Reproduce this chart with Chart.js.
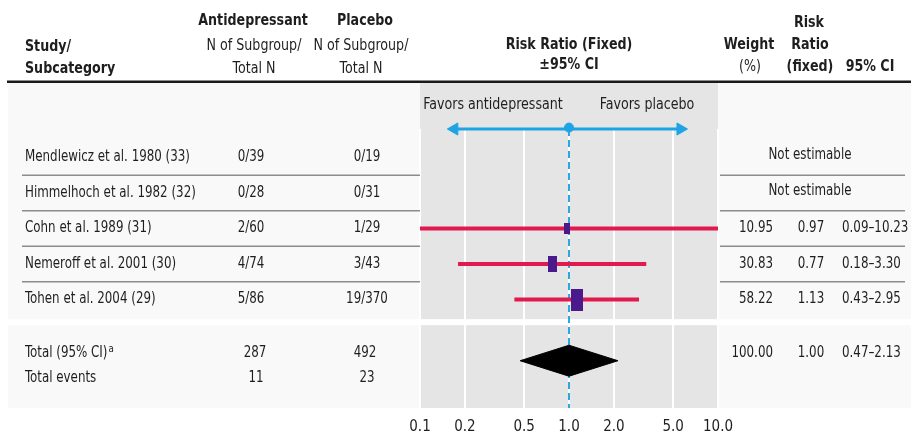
<!DOCTYPE html>
<html>
<head>
<meta charset="utf-8">
<style>
  body { margin: 0; background: #fff; }
  canvas { display: block; }
</style>
</head>
<body>
<canvas id="forestPlot" width="911" height="434"></canvas>
<script src="https://cdn.jsdelivr.net/npm/chart.js"></script>
<script>
// Study rows
const studies = [
    'Mendlewicz et al. 1980 (33)',
    'Himmelhoch et al. 1982 (32)',
    'Cohn et al. 1989 (31)',
    'Nemeroff et al. 2001 (30)',
    'Tohen et al. 2004 (29)'
];
const antidepressantN = ['0/39', '0/28', '2/60', '4/74', '5/86'];
const placeboN = ['0/19', '0/31', '1/29', '3/43', '19/370'];
const riskRatio = [null, null, 0.97, 0.77, 1.13];
const ciLow = [null, null, 0.09, 0.18, 0.43];
const ciHigh = [null, null, 10.23, 3.30, 2.95];
const weight = [null, null, 10.95, 30.83, 58.22];

// Pooled result
const totalN = [287, 492];
const totalEvents = [11, 23];
const totalRR = 1.00;
const totalLow = 0.47;
const totalHigh = 2.13;
const totalWeight = 100.00;

// x axis
const tickValues = [0.1, 0.2, 0.5, 1, 2, 5, 10];
const tickLabels = ['0.1', '0.2', '0.5', '1.0', '2.0', '5.0', '10.0'];

const FONT = "'Liberation Sans Narrow', 'DejaVu Sans Condensed', sans-serif";
const TEXT = '#1e1e1e';
const BLUE = '#1ea4e4';
const SQUEEZE = 0.88;   // the original face is narrower than what we have

// y positions in row units (row 0 = first study)
const Y_TOP = -0.8, Y_BOTTOM = 7.05;
const Y_TOTAL = 5.5, Y_DIAMOND = 5.72, Y_EVENTS = 6.2, Y_FAVORS = -1.48;

// square marker sized by weight
function squareFor(w) {
    const h = Math.round(9 + 0.22 * w);
    const c = document.createElement('canvas');
    c.width = Math.round(h * 0.55);
    c.height = h;
    const g = c.getContext('2d');
    g.fillStyle = '#4a1a8c';
    g.fillRect(0, 0, c.width, c.height);
    return c;
}

const datasets = [];

// reference line at 1
datasets.push({
    data: [{x: 1, y: Y_TOP}, {x: 1, y: Y_BOTTOM}],
    showLine: true, borderColor: '#2aa8e2', borderWidth: 2, borderDash: [7, 4],
    pointRadius: 0, order: 6
});

// favors arrow
datasets.push({
    data: [{x: 0.17, y: Y_TOP}, {x: 5.6, y: Y_TOP}],
    showLine: true, borderColor: BLUE, borderWidth: 3,
    pointStyle: 'triangle', pointRotation: [-90, 90], pointRadius: 7,
    pointBackgroundColor: BLUE, pointBorderColor: BLUE, pointBorderWidth: 1,
    clip: false, order: 5
});
datasets.push({
    data: [{x: 1, y: Y_TOP - 0.04}],
    pointRadius: 4.5, pointBackgroundColor: BLUE, pointBorderColor: BLUE,
    clip: false, order: 4
});

// confidence intervals
riskRatio.forEach((rr, i) => {
    if (rr === null) return;
    datasets.push({
        data: [{x: ciLow[i], y: i}, {x: ciHigh[i], y: i}],
        showLine: true, borderColor: '#e0194e', borderWidth: 4,
        pointRadius: 0, clip: 0, order: 3
    });
});

// point estimates
const estimateRows = riskRatio.map((rr, i) => i).filter(i => riskRatio[i] !== null);
datasets.push({
    data: estimateRows.map(i => ({x: riskRatio[i], y: i})),
    pointStyle: estimateRows.map(i => squareFor(weight[i])),
    pointRadius: 6, order: 1
});

// pooled diamond
const dh = 0.436;
datasets.push({
    data: [
        {x: totalLow, y: Y_DIAMOND}, {x: totalRR, y: Y_DIAMOND - dh},
        {x: totalHigh, y: Y_DIAMOND}, {x: totalRR, y: Y_DIAMOND + dh},
        {x: totalLow, y: Y_DIAMOND}
    ],
    showLine: true, fill: 'shape', borderColor: '#000', backgroundColor: '#000',
    borderWidth: 1, pointRadius: 0, tension: 0, order: 2
});

function setFont(ctx, bold, size) {
    ctx.font = (bold ? 'bold ' : '') + (size || 15) + 'px ' + FONT;
}

function text(ctx, s, x, y, align, bold, size) {
    setFont(ctx, bold, size);
    ctx.textAlign = align;
    ctx.textBaseline = 'middle';
    ctx.fillStyle = TEXT;
    ctx.save();
    ctx.translate(x, y);
    ctx.scale(SQUEEZE, 1);
    ctx.fillText(s, 0, 0);
    ctx.restore();
}

const tablePlugin = {
    id: 'forestTable',
    beforeDraw(chart) {
        const ctx = chart.ctx;
        const y = chart.scales.y;
        const area = chart.chartArea;
        ctx.save();
        ctx.fillStyle = '#f9f9f9';
        ctx.fillRect(8, 83, 903, area.bottom - 83);
        ctx.fillStyle = '#e5e5e5';
        ctx.fillRect(area.left, 83, area.right - area.left, area.bottom - 83);
        // gap before totals
        const g0 = y.getPixelForValue(4.55), g1 = y.getPixelForValue(4.72);
        ctx.fillStyle = '#ffffff';
        ctx.fillRect(8, g0, 903, g1 - g0);
        // header rule
        ctx.fillStyle = '#1a1a1a';
        ctx.fillRect(7, 80.5, 904, 2.5);
        ctx.restore();
    },
    afterDraw(chart) {
        const ctx = chart.ctx;
        const y = chart.scales.y;
        ctx.save();

        // header
        text(ctx, 'Study/', 25, 47, 'left', true, 16);
        text(ctx, 'Subcategory', 25, 69, 'left', true, 16);
        text(ctx, 'Antidepressant', 253, 21, 'center', true, 16);
        text(ctx, 'N of Subgroup/', 254, 46, 'center', false, 16);
        text(ctx, 'Total N', 254, 69, 'center', false, 16);
        text(ctx, 'Placebo', 365, 21, 'center', true, 16);
        text(ctx, 'N of Subgroup/', 361, 46, 'center', false, 16);
        text(ctx, 'Total N', 361, 69, 'center', false, 16);
        text(ctx, 'Risk Ratio (Fixed)', 569, 45, 'center', true, 16);
        text(ctx, '±95% CI', 569, 65, 'center', true, 16);
        text(ctx, 'Weight', 749, 45, 'center', true, 16);
        text(ctx, '(%)', 750, 67, 'center', false, 16);
        text(ctx, 'Risk', 809, 23, 'center', true, 16);
        text(ctx, 'Ratio', 810, 45, 'center', true, 16);
        text(ctx, '(fixed)', 810, 67, 'center', true, 16);
        text(ctx, '95% CI', 870, 67, 'center', true, 16);

        // favors labels
        const fy = y.getPixelForValue(Y_FAVORS);
        text(ctx, 'Favors antidepressant', 493, fy, 'center', false, 16);
        text(ctx, 'Favors placebo', 647, fy, 'center', false, 16);

        // row separators
        ctx.strokeStyle = '#8c8c8c';
        ctx.lineWidth = 1.5;
        for (let i = 0; i < studies.length - 1; i++) {
            const sy = y.getPixelForValue(i + 0.5);
            ctx.beginPath();
            ctx.moveTo(22, sy); ctx.lineTo(420, sy);
            ctx.moveTo(720, sy); ctx.lineTo(905, sy);
            ctx.stroke();
        }

        // study rows
        studies.forEach((s, i) => {
            const ry = y.getPixelForValue(i);
            text(ctx, s, 25, ry, 'left');
            text(ctx, antidepressantN[i], 251, ry, 'center');
            text(ctx, placeboN[i], 367, ry, 'center');
            if (riskRatio[i] === null) {
                text(ctx, 'Not estimable', 810, ry - 2, 'center');
            } else {
                text(ctx, weight[i].toFixed(2), 773, ry, 'right');
                text(ctx, riskRatio[i].toFixed(2), 811, ry, 'center');
                text(ctx, ciLow[i].toFixed(2) + '–' + ciHigh[i].toFixed(2), 842, ry, 'left');
            }
        });

        // totals
        const ty = y.getPixelForValue(Y_TOTAL);
        text(ctx, 'Total (95% CI)', 25, ty, 'left');
        setFont(ctx, false, 15);
        const tw = ctx.measureText('Total (95% CI)').width * SQUEEZE;
        text(ctx, 'a', 25 + tw + 1, ty - 4, 'left', false, 11);
        text(ctx, String(totalN[0]), 255, ty, 'center');
        text(ctx, String(totalN[1]), 365, ty, 'center');
        text(ctx, totalWeight.toFixed(2), 773, ty, 'right');
        text(ctx, totalRR.toFixed(2), 811, ty, 'center');
        text(ctx, totalLow.toFixed(2) + '–' + totalHigh.toFixed(2), 842, ty, 'left');

        const ey = y.getPixelForValue(Y_EVENTS);
        text(ctx, 'Total events', 25, ey, 'left');
        text(ctx, String(totalEvents[0]), 256, ey, 'center');
        text(ctx, String(totalEvents[1]), 367, ey, 'center');

        ctx.restore();
    }
};

Chart.defaults.font.family = FONT;

const ctx = document.getElementById('forestPlot').getContext('2d');
const forestChart = new Chart(ctx, {
    type: 'scatter',
    data: { datasets: datasets },
    options: {
        responsive: false,
        animation: false,
        devicePixelRatio: 1,
        layout: { padding: { left: 420, right: 193, top: 129, bottom: 0 } },
        plugins: {
            legend: { display: false },
            tooltip: { enabled: false }
        },
        scales: {
            x: {
                type: 'logarithmic',
                min: 0.1,
                max: 10,
                afterBuildTicks: scale => {
                    scale.ticks = tickValues.map(v => ({ value: v }));
                },
                afterFit: scale => { scale.height = 26; },
                ticks: {
                    autoSkip: false,
                    maxRotation: 0,
                    padding: 10,
                    color: TEXT,
                    font: { size: 15 },
                    callback: (value, index) => tickLabels[index]
                },
                grid: { color: '#ffffff', lineWidth: 2, drawTicks: false },
                border: { display: false }
            },
            y: {
                type: 'linear',
                min: Y_TOP,
                max: Y_BOTTOM,
                reverse: true,
                display: false
            }
        }
    },
    plugins: [tablePlugin]
});
</script>
</body>
</html>
